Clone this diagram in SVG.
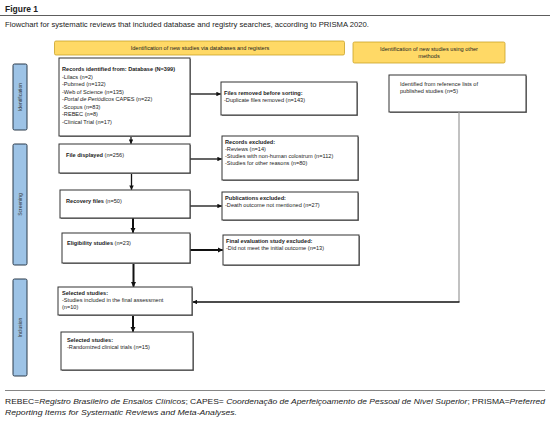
<svg xmlns="http://www.w3.org/2000/svg" width="550" height="423" viewBox="0 0 550 423">
<style>
text{font-family:"Liberation Sans",Arial,sans-serif;fill:#222}
.t{font-size:5.6px}
.b{font-weight:bold}
.box{fill:#fff;stroke:#333;stroke-width:1}
.sh{fill:#888}
.hdr{fill:#FFD966;stroke:#C9A227;stroke-width:0.8}
.side{fill:#9DC3E6;stroke:#2B3A4A;stroke-width:1}
.sl{font-size:5px;fill:#333}
.ln{stroke:#111;stroke-width:1.3;fill:none}
.lt{stroke:#111;stroke-width:2;fill:none}
.fn{font-size:7.3px}
</style>
<defs>
<marker id="ah" viewBox="0 0 10 10" refX="9" refY="5" markerWidth="3.5" markerHeight="3.5" orient="auto"><path d="M0,0L10,5L0,10z" fill="#111"/></marker>
<marker id="ah2" viewBox="0 0 10 10" refX="9" refY="5" markerWidth="2.6" markerHeight="2.6" orient="auto"><path d="M0,0L10,5L0,10z" fill="#111"/></marker>
</defs>
<rect width="550" height="423" fill="#fff"/>
<g id="title">
<text x="5" y="11.5" class="b" font-size="8.5px">Figure 1</text>
<line x1="0" y1="15.5" x2="550" y2="15.5" stroke="#333" stroke-width="0.8"/>
<text x="5" y="27" font-size="7.2px" textLength="364" lengthAdjust="spacingAndGlyphs">Flowchart for systematic reviews that included database and registry searches, according to PRISMA 2020.</text>
</g>
<g id="header-db"><rect x="54.5" y="41" width="290" height="14" rx="1.5" class="hdr"/><text x="200" y="50" class="t" text-anchor="middle">Identification of new studies via databases and registers</text></g>
<g id="header-other"><rect x="353" y="42" width="152" height="21" rx="1.5" class="hdr"/><text x="429" y="50.5" class="t" text-anchor="middle">Identification of new studies using other</text><text x="429" y="57.5" class="t" text-anchor="middle">methods</text></g>
<g id="side-identification"><rect x="13" y="64" width="14" height="66" rx="1.5" class="side"/><text class="sl" transform="translate(21.5,97) rotate(-90)" text-anchor="middle">Identification</text></g>
<g id="side-screening"><rect x="13" y="144" width="14" height="121" rx="1.5" class="side"/><text class="sl" transform="translate(21.5,204.5) rotate(-90)" text-anchor="middle">Screening</text></g>
<g id="side-inclusion"><rect x="13" y="279" width="14" height="97" rx="1.5" class="side"/><text class="sl" transform="translate(21.5,327.5) rotate(-90)" text-anchor="middle">Inclusion</text></g>

<g id="records">
<rect x="60" y="59" width="131" height="78" class="sh"/><rect x="59" y="58" width="131" height="78" class="box"/>
<text x="62" y="71" class="t b">Records identified from: Database (N=399)</text>
<text x="62" y="78.5" class="t">-Lilacs (n=2)</text>
<text x="62" y="86" class="t">-Pubmed (n=132)</text>
<text x="62" y="93.5" class="t">-Web of Science (n=135)</text>
<text x="62" y="101" class="t">-<tspan font-style="italic">Portal de Periódicos</tspan> CAPES (n=22)</text>
<text x="62" y="108.5" class="t">-Scopus (n=83)</text>
<text x="62" y="116" class="t">-REBEC (n=8)</text>
<text x="62" y="123.5" class="t">-Clinical Trial (n=17)</text>
</g>
<g id="files-removed">
<rect x="222" y="83" width="136" height="33" class="sh"/><rect x="221" y="82" width="136" height="33" class="box"/>
<text x="224" y="95" class="t b">Files removed before sorting:</text>
<text x="224" y="102" class="t">-Duplicate files removed (n=143)</text>
</g>
<g id="file-displayed">
<rect x="60" y="145" width="131" height="29" class="sh"/><rect x="59" y="144" width="131" height="29" class="box"/>
<text x="66" y="157" class="t b">File displayed <tspan font-weight="normal">(n=256)</tspan></text>
</g>
<g id="records-excluded">
<rect x="223" y="137" width="136" height="44" class="sh"/><rect x="222" y="136" width="136" height="44" class="box"/>
<text x="225" y="144" class="t b">Records excluded:</text>
<text x="225" y="151" class="t">-Reviews (n=14)</text>
<text x="225" y="158" class="t">-Studies with non-human colostrum (n=112)</text>
<text x="225" y="165" class="t">-Studies for other reasons (n=80)</text>
</g>
<g id="recovery">
<rect x="61" y="191" width="130" height="28" class="sh"/><rect x="60" y="190" width="130" height="28" class="box"/>
<text x="66" y="203" class="t b">Recovery files <tspan font-weight="normal">(n=50)</tspan></text>
</g>
<g id="publications-excluded">
<rect x="223" y="193" width="136" height="28" class="sh"/><rect x="222" y="192" width="136" height="28" class="box"/>
<text x="225" y="200" class="t b">Publications excluded:</text>
<text x="225" y="207" class="t">-Death outcome not mentioned (n=27)</text>
</g>
<g id="eligibility">
<rect x="63" y="234" width="128" height="30" class="sh"/><rect x="62" y="233" width="128" height="30" class="box"/>
<text x="67" y="245" class="t b">Eligibility studies <tspan font-weight="normal">(n=23)</tspan></text>
</g>
<g id="final-excluded">
<rect x="224" y="236" width="136" height="30" class="sh"/><rect x="223" y="235" width="136" height="30" class="box"/>
<text x="226" y="243" class="t b">Final evaluation study excluded:</text>
<text x="226" y="250" class="t">-Did not meet the initial outcome (n=13)</text>
</g>
<g id="reference-lists">
<rect x="390" y="76" width="137" height="37" class="sh"/><rect x="389" y="75" width="137" height="37" class="box"/>
<text x="400" y="86" class="t">Identified from reference lists of</text>
<text x="400" y="92.5" class="t">published studies (n=5)</text>
</g>
<g id="selected-1">
<rect x="59" y="288" width="134" height="28" class="sh"/><rect x="58" y="287" width="134" height="28" class="box"/>
<text x="62" y="294.5" class="t b">Selected studies:</text>
<text x="62" y="301.5" class="t">-Studies included in the final assessment</text>
<text x="62" y="308.5" class="t">(n=10)</text>
</g>
<g id="selected-2">
<rect x="62" y="333" width="132" height="38" class="sh"/><rect x="61" y="332" width="132" height="38" class="box"/>
<text x="67" y="341.5" class="t b">Selected studies:</text>
<text x="67" y="348.5" class="t">-Randomized clinical trials (n=15)</text>
</g>

<g id="connectors">
<line x1="131" y1="137" x2="131" y2="143.5" class="ln" marker-end="url(#ah)"/>
<line x1="131.5" y1="174" x2="131.5" y2="189.5" class="ln" marker-end="url(#ah)"/>
<line x1="133" y1="218.5" x2="133" y2="232.5" class="lt" marker-end="url(#ah2)"/>
<line x1="133.5" y1="264" x2="133.5" y2="286.5" class="lt" marker-end="url(#ah2)"/>
<line x1="133" y1="316" x2="133" y2="331.5" class="lt" marker-end="url(#ah2)"/>
<line x1="190.5" y1="94" x2="220.5" y2="94" class="ln" marker-end="url(#ah)"/>
<line x1="190.5" y1="159" x2="221.5" y2="159" class="ln" marker-end="url(#ah)"/>
<line x1="190.5" y1="206" x2="221.5" y2="206" class="ln" marker-end="url(#ah)"/>
<line x1="190.5" y1="250" x2="222.5" y2="250" class="lt" marker-end="url(#ah2)"/>
<line x1="459" y1="112" x2="459" y2="302" stroke="#999" stroke-width="1.2"/>
<line x1="459.5" y1="302" x2="193" y2="302" class="ln" marker-end="url(#ah)"/>
</g>
<g id="footnote">
<line x1="5" y1="390.5" x2="545" y2="390.5" stroke="#666" stroke-width="0.8"/>
<text x="5" y="404" class="fn" textLength="540" lengthAdjust="spacingAndGlyphs">REBEC=<tspan font-style="italic">Registro Brasileiro de Ensaios Clínicos</tspan>; CAPES= <tspan font-style="italic">Coordenação de Aperfeiçoamento de Pessoal de Nível Superior</tspan>; PRISMA=<tspan font-style="italic">Preferred</tspan></text>
<text x="5" y="415" class="fn" font-style="italic" textLength="232" lengthAdjust="spacingAndGlyphs">Reporting Items for Systematic Reviews and Meta-Analyses.</text>
</g>
</svg>
